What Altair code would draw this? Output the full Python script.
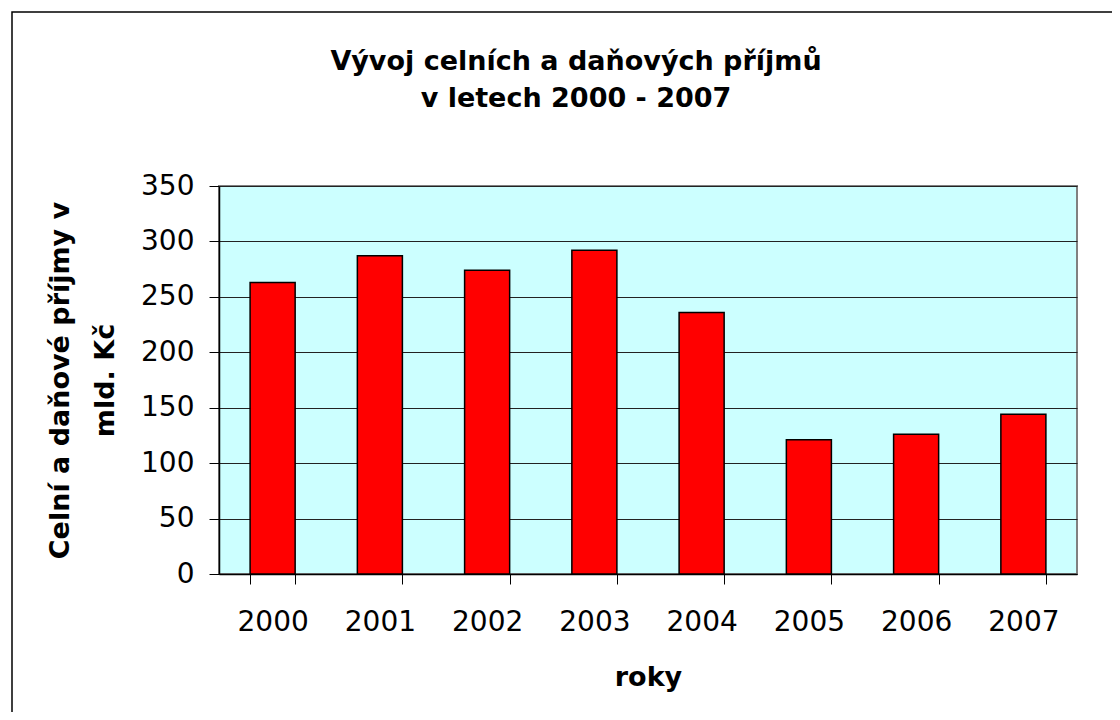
import altair as alt
import pandas as pd

years = ["2000", "2001", "2002", "2003", "2004", "2005", "2006", "2007"]
values = [263, 287, 274, 292, 236, 121, 126, 144]
y_ticks = [0, 50, 100, 150, 200, 250, 300, 350]
title_lines = ["Vývoj celních a daňových příjmů", "v letech 2000 - 2007"]
y_title = ["Celní a daňové příjmy v", "mld. Kč"]
x_title = "roky"

df = pd.DataFrame({"rok": years, "prijmy": values})

FONT = "DejaVu Sans"
W, H = 858, 388
L, T = 211, 178
SVG_W, SVG_H = 1104, 704

bars = alt.Chart(df).mark_bar(
    color="#FF0000", stroke="black", strokeWidth=1.5
).encode(
    x=alt.X(
        "rok:N",
        sort=years,
        scale=alt.Scale(paddingInner=0.58, paddingOuter=0.29),
        axis=alt.Axis(
            title=x_title,
            labelAngle=0,
            tickBand="extent",
            tickSize=10,
            tickColor="black",
            tickWidth=1,
            domainColor="black",
            domainWidth=1.5,
            labelFont=FONT,
            labelFontSize=28,
            labelColor="black",
            labelPadding=24,
            titleFont=FONT,
            titleFontSize=27,
            titleFontWeight="bold",
            titleColor="black",
            titleBaseline="alphabetic",
            titleY=111,
            grid=False,
        ),
    ),
    y=alt.Y(
        "prijmy:Q",
        scale=alt.Scale(domain=[0, 350], nice=False),
        axis=alt.Axis(
            title=y_title,
            values=y_ticks,
            grid=True,
            gridColor="#222222",
            gridWidth=1,
            tickSize=10,
            tickColor="black",
            tickWidth=1,
            domainColor="black",
            domainWidth=1.5,
            labelFont=FONT,
            labelFontSize=28,
            labelColor="black",
            labelPadding=15,
            titleFont=FONT,
            titleFontSize=27,
            titleFontWeight="bold",
            titleColor="black",
            titleAngle=270,
            titleBaseline="alphabetic",
            titleAlign="center",
            titleX=-151,
            titleY=H / 2,
            titleLineHeight=45,
        ),
    ),
)

title = alt.Chart(pd.DataFrame({"t": [0]})).mark_text(
    font=FONT,
    fontSize=27,
    fontWeight="bold",
    color="black",
    align="center",
    baseline="alphabetic",
    lineHeight=37,
).encode(
    x=alt.value(576 - 8 - L),
    y=alt.value(70 - 8 - T),
    text=alt.value(title_lines),
)

frame = alt.Chart(pd.DataFrame({"f": [0]})).mark_rect(
    filled=False, stroke="black", strokeWidth=1.5
).encode(
    x=alt.value(12 - 8 - L),
    x2=alt.value(1130 - 8 - L),
    y=alt.value(12 - 8 - T),
    y2=alt.value(730 - 8 - T),
)

chart = alt.layer(bars, title, frame).properties(
    width=W,
    height=H,
    autosize="none",
    background="white",
    padding={"left": L, "top": T, "right": SVG_W - L - W, "bottom": SVG_H - T - H},
).configure_view(
    fill="#CCFFFF", stroke="#808080", strokeWidth=2
)

chart.save("out.html", embed_options={"renderer": "svg", "actions": False})
